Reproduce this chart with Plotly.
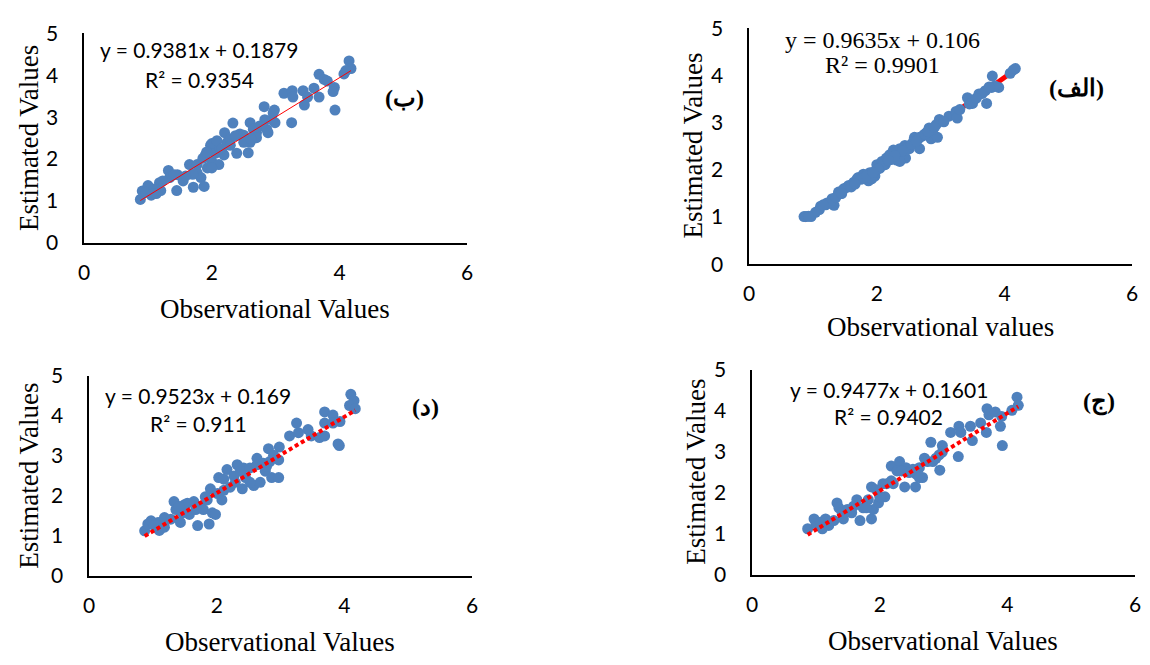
import plotly.graph_objects as go

# ---------------- data ----------------
# Panel (ب) top-left
obs_b = [0.88, 0.91, 1.00, 0.97, 1.05, 1.13, 1.18, 1.20, 1.32, 1.34, 1.45, 1.46, 1.55, 1.65, 1.71, 1.77,
         1.83, 1.88, 1.90, 1.98, 2.00, 2.05, 2.11, 2.20, 2.19, 2.33, 2.39, 2.44, 2.57, 2.60, 2.60, 2.70,
         2.82, 2.83, 2.88, 2.98, 2.99, 3.13, 3.25, 3.26, 3.27, 3.43, 3.45, 3.50, 3.60, 3.68, 3.68, 3.76,
         3.81, 3.92, 3.93, 3.90, 4.07, 4.15, 4.18, 4.10, 2.00, 2.13, 2.24, 2.29, 2.37, 2.50, 2.65, 2.75,
         2.86, 2.94, 2.70, 2.29, 1.70, 1.77, 1.93, 2.00, 1.59, 1.41, 1.23, 1.10, 1.08, 1.86, 1.92, 2.08,
         2.16, 2.96, 2.50, 2.61]
est_b = [1.04, 1.24, 1.37, 1.21, 1.14, 1.18, 1.44, 1.25, 1.73, 1.56, 1.25, 1.63, 1.48, 1.87, 1.33, 1.67,
         1.56, 1.35, 2.10, 2.33, 1.94, 2.14, 1.87, 2.63, 2.10, 2.86, 2.14, 2.60, 2.15, 2.87, 2.40, 2.63,
         3.25, 2.94, 2.63, 3.17, 2.87, 3.57, 2.87, 3.63, 3.48, 3.63, 3.29, 3.48, 3.69, 4.02, 3.48, 3.90,
         3.86, 3.71, 3.17, 3.61, 4.03, 4.34, 4.16, 4.11, 2.37, 2.25, 2.40, 2.48, 2.56, 2.57, 2.71, 2.79,
         2.71, 2.94, 2.51, 2.33, 1.64, 1.87, 1.79, 1.79, 1.60, 1.63, 1.48, 1.29, 1.18, 2.02, 2.17, 2.44,
         2.25, 3.10, 2.40, 2.48]

# Panel (الف) top-right
obs_alef = [0.86, 0.89, 0.97, 1.12, 1.20, 1.33, 1.30, 1.40, 1.48, 1.56, 1.64, 1.71, 1.79, 1.87, 1.89, 1.97,
            2.00, 2.08, 2.15, 2.26, 2.31, 2.36, 2.44, 2.45, 2.51, 2.59, 2.67, 2.72, 2.82, 2.85, 2.95, 2.98,
            3.13, 3.24, 3.26, 3.42, 3.50, 3.60, 3.70, 3.72, 3.81, 3.91, 3.80, 4.09, 4.14, 4.17, 1.69, 1.82,
            2.05, 2.13, 2.20, 2.36, 2.57, 2.65, 2.78, 2.88, 2.93, 2.67, 2.49, 1.92, 1.43, 1.53, 1.22, 1.10,
            1.04, 2.36, 2.59, 2.31, 1.26, 1.36, 1.60, 1.75, 2.10, 2.40, 2.75, 3.05, 3.45, 3.65, 3.85, 0.93,
            1.16, 1.45, 1.66, 1.84, 2.02, 2.22, 2.28, 2.54, 2.62, 2.80, 2.90, 3.30, 3.56, 3.76, 1.94, 2.18]
est_alef = [1.01, 1.01, 1.01, 1.23, 1.26, 1.25, 1.39, 1.53, 1.60, 1.67, 1.74, 1.84, 1.91, 1.77, 1.94, 1.87,
            2.11, 2.18, 2.25, 2.42, 2.21, 2.32, 2.52, 2.25, 2.45, 2.69, 2.45, 2.72, 2.89, 2.66, 2.69, 3.07,
            3.14, 3.24, 3.10, 3.53, 3.41, 3.61, 3.68, 3.41, 3.99, 3.75, 3.75, 4.05, 4.12, 4.15, 1.81, 1.84,
            2.04, 2.11, 2.32, 2.45, 2.59, 2.66, 2.79, 2.86, 2.96, 2.69, 2.49, 1.81, 1.50, 1.63, 1.30, 1.16,
            1.10, 2.18, 2.59, 2.38, 1.30, 1.42, 1.64, 1.80, 2.12, 2.40, 2.76, 3.02, 3.40, 3.62, 3.78, 1.02,
            1.26, 1.50, 1.70, 1.88, 2.02, 2.22, 2.30, 2.54, 2.60, 2.82, 2.90, 3.28, 3.52, 3.76, 1.95, 2.20]

# Panel (د) bottom-left
obs_dal = [0.87, 0.92, 0.97, 1.08, 1.10, 1.18, 1.18, 1.33, 1.36, 1.43, 1.46, 1.49, 1.57, 1.64, 1.70, 1.75,
           1.79, 1.88, 1.90, 1.93, 1.98, 2.03, 2.08, 2.11, 2.16, 2.21, 2.32, 2.40, 2.42, 2.45, 2.58, 2.63,
           2.68, 2.76, 2.81, 2.86, 2.97, 2.98, 2.97, 3.14, 3.25, 3.28, 3.43, 3.48, 3.61, 3.69, 3.69, 3.69,
           3.82, 3.82, 3.93, 3.92, 3.90, 4.10, 4.15, 4.08, 4.17, 1.85, 2.01, 2.27, 2.37, 2.52, 2.63, 2.73,
           2.83, 2.78, 2.11, 2.29, 1.54, 1.41, 1.28, 1.67, 1.82, 2.52, 1.02, 2.89]
est_dal = [1.13, 1.30, 1.38, 1.34, 1.14, 1.22, 1.46, 1.86, 1.66, 1.34, 1.58, 1.78, 1.54, 1.86, 1.26, 1.74,
           1.66, 1.30, 2.18, 1.58, 1.54, 2.46, 1.90, 2.14, 2.66, 2.22, 2.78, 2.18, 2.70, 2.46, 2.26, 2.94,
           2.34, 2.62, 3.18, 2.46, 2.46, 3.22, 2.90, 3.50, 3.82, 3.58, 3.66, 3.50, 3.46, 3.50, 4.10, 3.82,
           4.02, 3.82, 3.86, 3.26, 3.30, 4.54, 4.38, 4.26, 4.18, 1.90, 2.06, 2.50, 2.62, 2.70, 2.78, 2.82,
           2.86, 2.74, 2.42, 2.34, 1.82, 1.74, 1.42, 1.66, 1.98, 2.34, 1.26, 3.02]

# Panel (ج) bottom-right
obs_jim = [0.87, 0.97, 1.00, 1.10, 1.15, 1.20, 1.33, 1.36, 1.43, 1.49, 1.56, 1.64, 1.69, 1.74, 1.82, 1.87,
           1.87, 1.90, 1.98, 2.05, 2.08, 2.18, 2.21, 2.31, 2.39, 2.41, 2.56, 2.62, 2.67, 2.70, 2.80, 2.83,
           2.94, 2.98, 2.98, 3.11, 3.23, 3.24, 3.27, 3.42, 3.45, 3.58, 3.67, 3.68, 3.71, 3.81, 3.89, 3.91,
           3.92, 4.07, 4.15, 4.17, 1.95, 2.11, 2.27, 2.34, 2.52, 2.57, 2.62, 2.75, 2.88, 2.93, 1.59, 1.41,
           1.28, 1.07, 2.00, 1.79, 2.46, 2.18]
est_jim = [1.13, 1.37, 1.25, 1.13, 1.37, 1.21, 1.76, 1.64, 1.37, 1.60, 1.52, 1.84, 1.33, 1.64, 1.84, 1.37,
           2.15, 1.60, 1.76, 2.23, 1.91, 2.66, 2.23, 2.77, 2.15, 2.62, 2.15, 2.62, 2.38, 2.85, 3.24, 2.77,
           2.56, 3.16, 3.00, 3.48, 2.89, 3.63, 3.48, 3.63, 3.28, 3.71, 3.48, 4.06, 3.91, 3.98, 3.63, 3.87,
           3.16, 4.02, 4.34, 4.14, 2.08, 2.23, 2.54, 2.54, 2.58, 2.46, 2.38, 2.77, 2.85, 2.93, 1.68, 1.52,
           1.33, 1.29, 1.91, 1.64, 2.50, 2.30]

slopes = [0.9381, 0.9635, 0.9523, 0.9477]
intercepts = [0.1879, 0.106, 0.169, 0.1601]
r2 = ["0.9354", "0.9901", "0.911", "0.9402"]
panel_labels = ["(ب)", "(الف)", "(د)", "(ج)"]
x_titles = ["Observational Values", "Observational values", "Observational Values", "Observational Values"]
y_title = "Estimated Values"
x_ticks = [0, 2, 4, 6]
y_ticks = [0, 1, 2, 3, 4, 5]

# ---------------- layout ----------------
W, H = 1150, 665
BLUE = "#4F81BD"
SANS = "Lato, 'Open Sans', sans-serif"
SERIF = "'Liberation Serif', 'Times New Roman', serif"

# plot area boxes in pixels: (left, right, top, bottom)
boxes = [(79, 466, 20, 238), (751, 1138, 15, 260), (84, 471, 376, 584), (754, 1141, 370, 583)]
panels = [(obs_b, est_b), (obs_alef, est_alef), (obs_dal, est_dal), (obs_jim, est_jim)]
eq_pos = [(1.80, 4.61, 3.90), (2.09, 4.76, 4.22), (1.71, 4.50, 3.82), (2.14, 4.53, 3.87)]
lab_pos = [(5.02, 3.46), (5.13, 3.73), (5.27, 4.23), (5.43, 4.23)]
eq_font = [SANS, SERIF, SANS, SANS]
eq_size = [21, 24, 21, 21]
marker_size = [11, 11, 11, 11]
line_styles = [dict(color="red", width=1), dict(color="red", width=5),
               dict(color="red", width=4, dash="4px,3px"), dict(color="red", width=4, dash="4px,3px")]
xt_pos = [(272, 307), (944, 325), (277, 653), (947, 652)]
yt_pos = [(23, 129), (694, 137), (23, 480), (697, 476)]

fig = go.Figure()
annotations = []
for i, ((l, r, t, b), (xs, ys)) in enumerate(zip(boxes, panels)):
    n = "" if i == 0 else str(i + 1)
    xa, ya = "x" + n, "y" + n
    xmin, xmax = min(xs), max(xs)
    line = go.Scatter(x=[xmin, xmax], y=[slopes[i] * xmin + intercepts[i], slopes[i] * xmax + intercepts[i]],
                      mode="lines", line=line_styles[i], xaxis=xa, yaxis=ya, hoverinfo="skip")
    pts = go.Scatter(x=xs, y=ys, mode="markers",
                     marker=dict(color=BLUE, size=marker_size[i], line=dict(width=0)),
                     xaxis=xa, yaxis=ya)
    if i == 1:
        fig.add_trace(line)
        fig.add_trace(pts)
    else:
        fig.add_trace(pts)
        fig.add_trace(line)

    axcommon = dict(showgrid=False, zeroline=False, showline=True, linecolor="black", linewidth=1.5,
                    ticks="", tickfont=dict(family=SANS, size=21, color="black"), fixedrange=True)
    fig.layout["xaxis" + n] = dict(domain=[l / W, r / W], range=[0, 6], tickvals=x_ticks,
                                  anchor=ya, ticklabelstandoff=10, **axcommon)
    fig.layout["yaxis" + n] = dict(domain=[1 - b / H, 1 - t / H], range=[0, 5], tickvals=y_ticks,
                                  anchor=xa, ticklabelstandoff=20, **axcommon)

    ex, ey1, ey2 = eq_pos[i]
    efont = dict(family=eq_font[i], size=eq_size[i], color="black")
    annotations.append(dict(x=ex, y=ey1, xref=xa, yref=ya, showarrow=False, xanchor="center",
                            yanchor="middle", text=f"y = {slopes[i]}x + {intercepts[i]}", font=efont))
    annotations.append(dict(x=ex, y=ey2, xref=xa, yref=ya, showarrow=False, xanchor="center",
                            yanchor="middle", text=f"R² = {r2[i]}", font=efont))
    lx, ly = lab_pos[i]
    annotations.append(dict(x=lx, y=ly, xref=xa, yref=ya, showarrow=False, xanchor="center",
                            yanchor="middle", text=f"<b>{panel_labels[i]}</b>",
                            font=dict(family=SERIF, size=24, color="black")))
    tx, ty = xt_pos[i]
    annotations.append(dict(x=tx / W, y=1 - ty / H, xref="paper", yref="paper", showarrow=False,
                            xanchor="center", yanchor="middle",
                            text=x_titles[i], font=dict(family=SERIF, size=27, color="black")))
    yx, yy = yt_pos[i]
    annotations.append(dict(x=yx / W, y=1 - yy / H, xref="paper", yref="paper", showarrow=False,
                            xanchor="center", yanchor="middle",
                            text=y_title, textangle=-90, font=dict(family=SERIF, size=27, color="black")))

fig.update_layout(width=W, height=H, margin=dict(l=0, r=0, t=0, b=0), showlegend=False,
                  plot_bgcolor="white", paper_bgcolor="white", annotations=annotations)
fig.write_html("out.html")
